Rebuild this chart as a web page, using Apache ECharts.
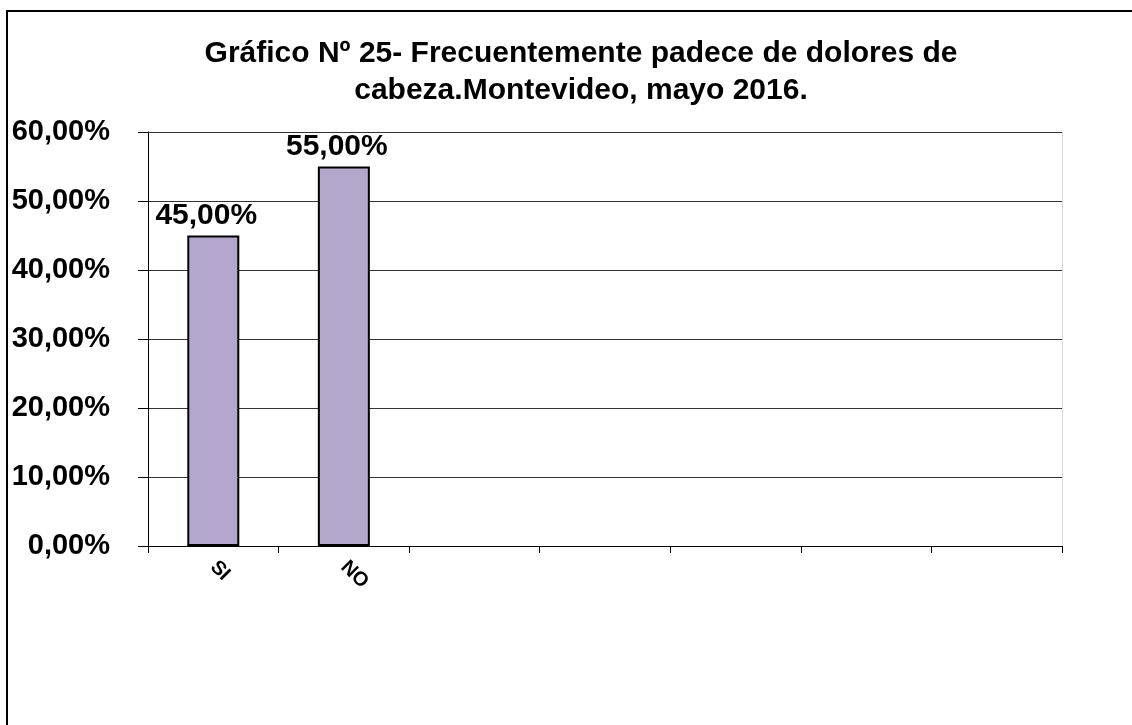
<!DOCTYPE html>
<html>
<head>
<meta charset="utf-8">
<title>Gráfico Nº 25</title>
<script src="https://cdn.jsdelivr.net/npm/echarts@6/dist/echarts.min.js"></script>
<style>
  html, body { margin: 0; padding: 0; background: #fff; }
  #main { width: 1132px; height: 725px; }
</style>
</head>
<body>
<div id="main"></div>
<script>
// datos del gráfico
var categorias = ['SI', 'NO', '', '', '', '', ''];
var porcentajes = [45, 55];
var titulo = 'Gráfico Nº 25- Frecuentemente padece de dolores de\ncabeza.Montevideo, mayo 2016.';

function fmtPct(v) {
  return Number(v).toFixed(2).replace('.', ',') + '%';
}

var chart = echarts.init(document.getElementById('main'));

var option = {
  backgroundColor: '#ffffff',
  animation: false,
  title: {
    text: titulo,
    left: 576,
    top: 30,
    textAlign: 'center',
    textStyle: {
      fontFamily: 'Liberation Sans, Arial',
      fontWeight: 'bold',
      fontSize: 30,
      lineHeight: 37,
      color: '#000'
    }
  },
  // marco exterior
  graphic: [{
    type: 'rect',
    shape: { x: 7, y: 11, width: 1140, height: 730 },
    style: { fill: 'none', stroke: '#000', lineWidth: 2 },
    silent: true
  }],
  grid: {
    left: 148,
    right: 70,
    top: 132,
    bottom: 179
  },
  xAxis: {
    type: 'category',
    data: categorias,
    axisLine: { show: true, lineStyle: { color: '#000', width: 1 } },
    axisTick: { show: true, length: 7, lineStyle: { color: '#000' } },
    axisLabel: {
      rotate: -45,
      margin: 18,
      interval: 0,
      fontFamily: 'Liberation Sans, Arial',
      fontWeight: 'bold',
      fontSize: 20,
      color: '#000'
    },
    splitLine: { show: false }
  },
  yAxis: [{
    type: 'value',
    min: 0,
    max: 60,
    interval: 10,
    axisLine: { show: true, lineStyle: { color: '#000', width: 1 } },
    axisTick: { show: true, length: 10, lineStyle: { color: '#000' } },
    axisLabel: {
      formatter: fmtPct,
      margin: 38,
      fontFamily: 'Liberation Sans, Arial',
      fontWeight: 'bold',
      fontSize: 29,
      color: '#000'
    },
    splitLine: { show: true, lineStyle: { color: '#333', width: 1 } }
  }, {
    type: 'value',
    position: 'right',
    min: 0,
    max: 60,
    interval: 10,
    axisLine: { show: true, lineStyle: { color: '#d9d9d9', width: 1 } },
    axisTick: { show: false },
    axisLabel: { show: false },
    splitLine: { show: false }
  }],
  series: [{
    type: 'bar',
    data: porcentajes,
    barWidth: 52,
    itemStyle: {
      color: '#b4a7cc',
      borderColor: '#000',
      borderWidth: 2
    },
    label: {
      show: true,
      position: 'top',
      distance: 5,
      offset: [-7, 0],
      formatter: function (p) { return fmtPct(p.value); },
      fontFamily: 'Liberation Sans, Arial',
      fontWeight: 'bold',
      fontSize: 30,
      color: '#000'
    }
  }]
};

chart.setOption(option);
</script>
</body>
</html>
